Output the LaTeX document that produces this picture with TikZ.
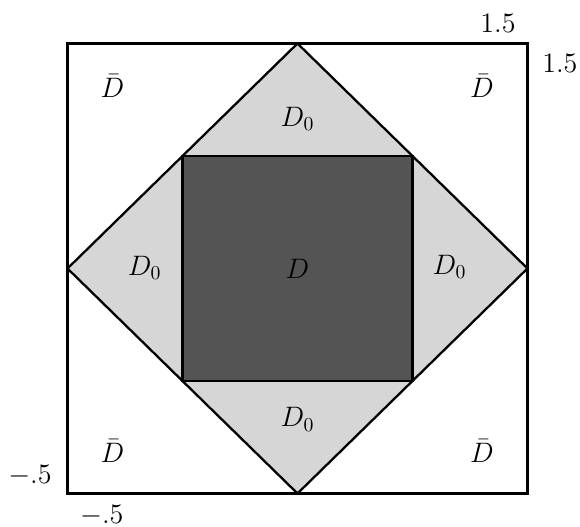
\RequirePackage{fix-cm}
\documentclass[tikz,border=0pt]{standalone}
\usepackage{amsmath, amssymb}
\usepackage{tikz}

\begin{document}
\begin{tikzpicture}[x=4.6cm, y=4.5cm, line join=miter, every node/.style={font=\fontsize{16}{19}\selectfont}]
			\useasboundingbox (-0.7935,-0.6489) rectangle (1.7283,1.6933);
			% Diamond with light fill and inner dark square
			\fill[black!16] (0.5,-0.5) -- (1.5,0.5) -- (0.5,1.5) -- (-0.5,0.5) -- cycle;
			\fill[black!67] (0,0) rectangle (1,1);
			\draw[line width=1.3pt] (0.5,-0.5) -- (1.5,0.5) -- (0.5,1.5) -- (-0.5,0.5) -- cycle;
			\draw[line width=1.3pt] (0,0) rectangle (1,1);
			\draw[line width=1.3pt] (-0.5,-0.5) rectangle (1.5,1.5);
			
			% Region labels
			\node (dbarnw) at (-0.305,1.309) {$\bar{D}$};
			\node (dbarne) at (1.302,1.309) {$\bar{D}$};
			\node (dbarsw) at (-0.305,-0.313) {$\bar{D}$};
			\node (dbarse) at (1.302,-0.313) {$\bar{D}$};
			\node (dzeron) at (0.5,1.164) {$D_0$};
			\node (dzerow) at (-0.165,0.504) {$D_0$};
			\node (dzeroe) at (1.161,0.506) {$D_0$};
			\node (dzeros) at (0.5,-0.171) {$D_0$};
			\node (dmid) at (0.5,0.498) {$D$};
			
			% Axis values
			\node (xtop) at (1.372,1.591) {$1.5$};
			\node (yright) at (1.641,1.413) {$1.5$};
			\node (yleft) at (-0.663,-0.422) {$-.5$};
			\node (xbottom) at (-0.351,-0.600) {$-.5$};
		\end{tikzpicture}
\end{document}
